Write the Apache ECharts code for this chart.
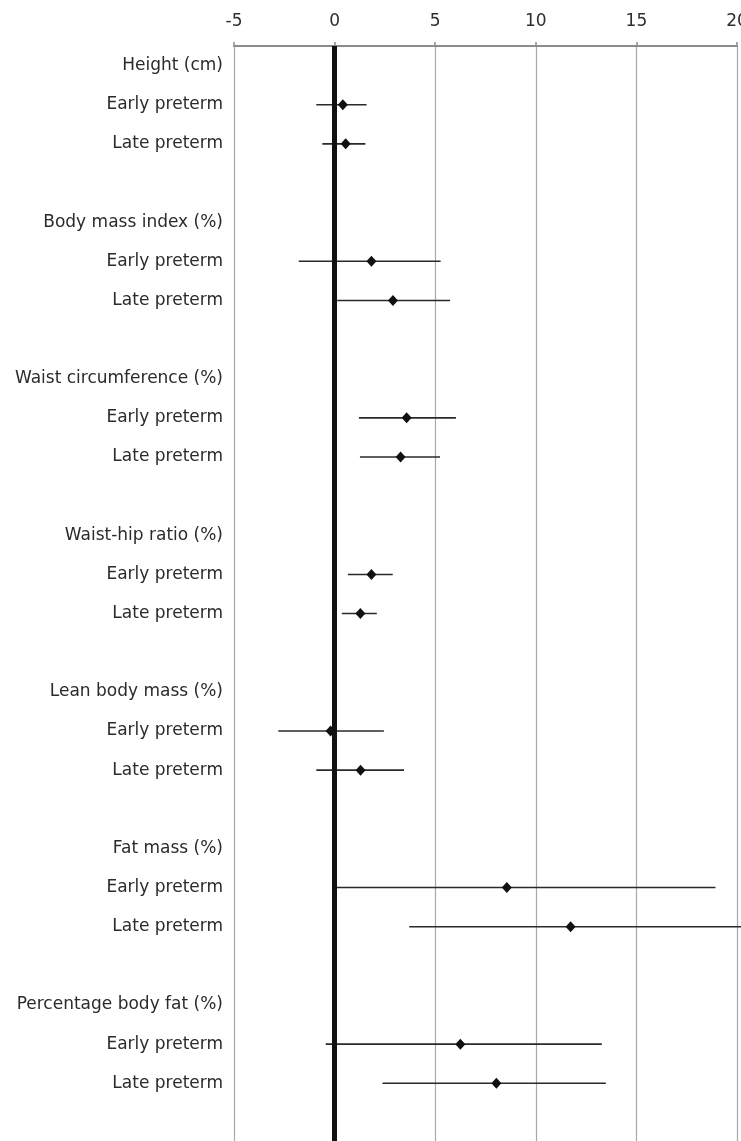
<!DOCTYPE html>
<html>
<head>
<meta charset="utf-8">
<script src="https://cdn.jsdelivr.net/npm/echarts@6/dist/echarts.min.js"></script>
<style>
  html, body { margin: 0; padding: 0; background: #fff; }
  #chart { width: 741px; height: 1141px; }
</style>
</head>
<body>
<div id="chart"></div>
<script>
// outcomes (group headers)
var groups = ['Height (cm)', 'Body mass index (%)', 'Waist circumference (%)', 'Waist-hip ratio (%)',
  'Lean body mass (%)', 'Fat mass (%)', 'Percentage body fat (%)']
var subgroups = ['Early preterm', 'Late preterm']

// estimates with 95% CI
var earlyEst = [0.41, 1.83, 3.58, 1.83, -0.2, 8.56, 6.25]
var earlyLow = [-0.91, -1.78, 1.21, 0.66, -2.8, 0.1, -0.44]
var earlyHigh = [1.59, 5.27, 6.03, 2.89, 2.45, 18.93, 13.28]
var lateEst = [0.55, 2.9, 3.28, 1.28, 1.29, 11.73, 8.04]
var lateLow = [-0.61, 0.13, 1.26, 0.36, -0.91, 3.71, 2.38]
var lateHigh = [1.53, 5.74, 5.24, 2.1, 3.45, 20.4, 13.48]

var xTicks = [-5, 0, 5, 10, 15, 20]

// rows: header, early, late, blank
var categories = []
var points = []
var bars = []
groups.forEach(function (g, i) {
  var base = i * 4
  categories.push(g, subgroups[0], subgroups[1], '')
  points.push([earlyEst[i], base + 1], [lateEst[i], base + 2])
  bars.push([earlyLow[i], earlyHigh[i], base + 1], [lateLow[i], lateHigh[i], base + 2])
})

var chart = echarts.init(document.getElementById('chart'))
var option = {
  animation: false,
  grid: { left: 234, right: 4, top: 46, height: 1096, outerBoundsMode: 'none', containLabel: false },
  xAxis: {
    type: 'value',
    position: 'top',
    min: xTicks[0],
    max: xTicks[xTicks.length - 1],
    interval: 5,
    axisLine: { show: true, lineStyle: { color: '#8c8c8c', width: 2 } },
    axisTick: { show: true, length: 4, lineStyle: { color: '#8c8c8c', width: 1.5 } },
    axisLabel: { color: '#2e2e2e', fontSize: 17, fontFamily: 'DejaVu Sans', margin: 16 },
    splitLine: { show: true, lineStyle: { color: '#a8a8a8', width: 1.2 } }
  },
  yAxis: {
    type: 'category',
    inverse: true,
    data: categories,
    axisLine: { show: false },
    axisTick: { show: false },
    splitLine: { show: false },
    axisLabel: { interval: 0, color: '#2b2b2b', fontSize: 17, fontFamily: 'DejaVu Sans', margin: 11 }
  },
  series: [
    {
      type: 'custom',
      clip: false,
      data: bars,
      encode: { x: [0, 1], y: 2 },
      renderItem: function (params, api) {
        var a = api.coord([api.value(0), api.value(2)])
        var b = api.coord([api.value(1), api.value(2)])
        return {
          type: 'line',
          shape: { x1: a[0], y1: a[1], x2: b[0], y2: b[1] },
          style: { stroke: '#2a2a2a', lineWidth: 1.6 }
        }
      },
      z: 2
    },
    {
      type: 'scatter',
      data: points,
      symbol: 'diamond',
      symbolSize: [10, 11],
      itemStyle: { color: '#111', opacity: 1 },
      z: 4,
      markLine: {
        silent: true,
        symbol: 'none',
        label: { show: false },
        lineStyle: { color: '#111', width: 5, type: 'solid' },
        data: [{ xAxis: 0 }],
        z: 3
      }
    }
  ]
}
chart.setOption(option)
</script>
</body>
</html>
